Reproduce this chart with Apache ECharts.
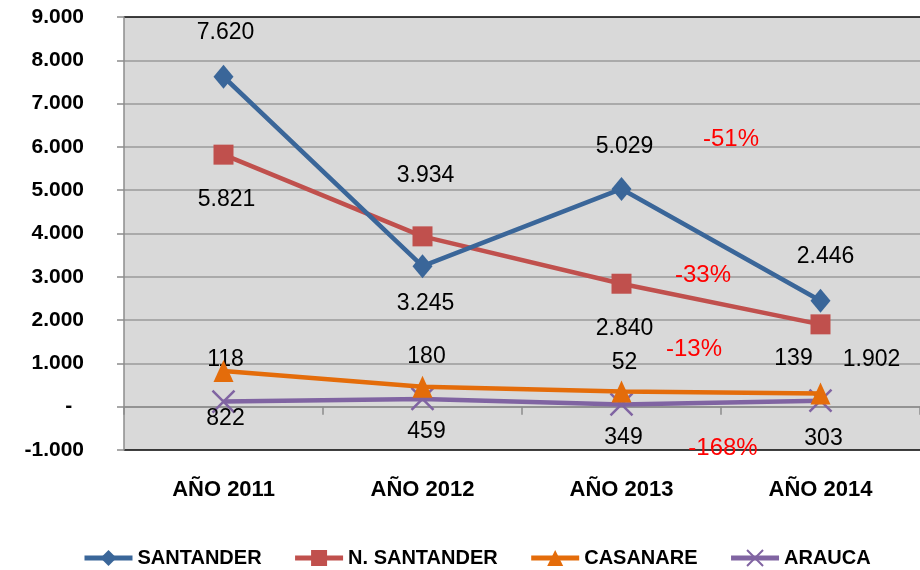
<!DOCTYPE html>
<html>
<head>
<meta charset="utf-8">
<script src="https://cdn.jsdelivr.net/npm/echarts@6/dist/echarts.min.js"></script>
<style>
html,body{margin:0;padding:0;background:#fff;}
#chart{width:920px;height:570px;}
</style>
</head>
<body>
<div id="chart"></div>
<script>
// ---- data ----
const categories = ['AÑO 2011', 'AÑO 2012', 'AÑO 2013', 'AÑO 2014'];
const seriesNames = ['SANTANDER', 'N. SANTANDER', 'CASANARE', 'ARAUCA'];
const santander = [7620, 3245, 5029, 2446];
const nSantander = [5821, 3934, 2840, 1902];
const casanare = [822, 459, 349, 303];
const arauca = [118, 180, 52, 139];
const yMin = -1000, yMax = 9000, yStep = 1000;
const changeLabels = ['-51%', '-33%', '-13%', '-168%'];

// ---- styling / layout (not data) ----
const NUM_FONT = "'Liberation Sans', Arial, sans-serif";
const colors = ['#3A6699', '#C0504D', '#E46C0A', '#8064A2'];
const labelOffsets = [
  [[2, -44], [3, 37], [3, -42], [5, -44]],
  [[3, 45], [3, -61], [3, 45], [51, 35]],
  [[2, 48], [4, 45], [2, 46], [3, 45]],
  [[2, -42], [4, -42], [3, -42], [-27, -42]]
];
const changePos = [[731, 139], [703, 275], [694, 349], [723, 448]];

function fmt(v) {
  if (v === 0) return '-  ';
  const s = Math.abs(v).toString().replace(/\B(?=(\d{3})+(?!\d))/g, '.');
  return (v < 0 ? '-' : '') + s;
}

function mkData(arr, idx) {
  return arr.map((v, i) => ({
    value: v,
    label: { offset: labelOffsets[idx][i] }
  }));
}

const symbols = [
  { symbol: 'diamond', symbolSize: [20, 24] },
  { symbol: 'rect', symbolSize: 20 },
  { symbol: 'triangle', symbolSize: [20, 22] },
  { symbol: 'path://M0,0L20,20M20,0L0,20', symbolSize: 22 }
];
const values = [santander, nSantander, casanare, arauca];

const chart = echarts.init(document.getElementById('chart'), null, { renderer: 'canvas' });

const splitColors = [];
for (let v = yMin; v <= yMax; v += yStep) {
  splitColors.push(v === yMin || v === yMax ? '#000000' : '#9A9A9A');
}

const option = {
  animation: false,
  backgroundColor: '#ffffff',
  grid: {
    left: 124, right: 0, top: 17, bottom: 120,
    show: true, backgroundColor: '#D9D9D9', borderWidth: 0
  },
  legend: {
    top: 543, left: 77,
    itemWidth: 48, itemHeight: 20, itemGap: 31,
    data: seriesNames,
    lineStyle: { width: 5 },
    textStyle: { fontFamily: NUM_FONT, fontWeight: 'bold', fontSize: 20, color: '#000' }
  },
  xAxis: [
    {
      type: 'category', data: categories, position: 'bottom',
      axisLine: { show: false, onZero: false },
      axisTick: { show: false },
      axisLabel: { margin: 29, fontFamily: NUM_FONT, fontWeight: 'bold', fontSize: 22, color: '#000' },
      splitLine: { show: false }
    },
    {
      type: 'category', data: categories, position: 'top',
      axisLine: { show: true, onZero: true, lineStyle: { color: '#8C8C8C', width: 1.5 } },
      axisTick: { show: true, inside: true, length: 8, lineStyle: { color: '#8C8C8C', width: 1.5 } },
      axisLabel: { show: false },
      splitLine: { show: false }
    }
  ],
  yAxis: {
    type: 'value', min: yMin, max: yMax, interval: yStep,
    axisLine: { show: true, lineStyle: { color: '#8C8C8C', width: 1.5 } },
    axisTick: { show: true, length: 7, lineStyle: { color: '#8C8C8C', width: 1.5 } },
    axisLabel: { margin: 40, formatter: fmt, fontFamily: NUM_FONT, fontWeight: 'bold', fontSize: 21, color: '#000' },
    splitLine: { show: true, lineStyle: { color: splitColors, width: 1.5 } }
  },
  series: values.map((arr, idx) => ({
    name: seriesNames[idx],
    type: 'line',
    xAxisIndex: 0,
    data: mkData(arr, idx),
    symbol: symbols[idx].symbol,
    symbolSize: symbols[idx].symbolSize,
    color: colors[idx],
    lineStyle: { width: 4.5, color: colors[idx] },
    itemStyle: idx === 3
      ? { color: colors[idx], borderColor: colors[idx], borderWidth: 2.5 }
      : { color: colors[idx], borderWidth: 0 },
    label: {
      show: true, position: 'inside', formatter: p => fmt(p.value),
      fontFamily: NUM_FONT, fontSize: 23, color: '#000'
    },
    emphasis: { disabled: true },
    z: 10 - idx
  })),
  graphic: changeLabels.map((t, i) => ({
    type: 'text',
    x: changePos[i][0], y: changePos[i][1],
    z: 100,
    style: {
      text: t, fill: '#FF0000', font: "24px " + NUM_FONT,
      align: 'center', verticalAlign: 'middle'
    }
  }))
};

chart.setOption(option);
</script>
</body>
</html>
